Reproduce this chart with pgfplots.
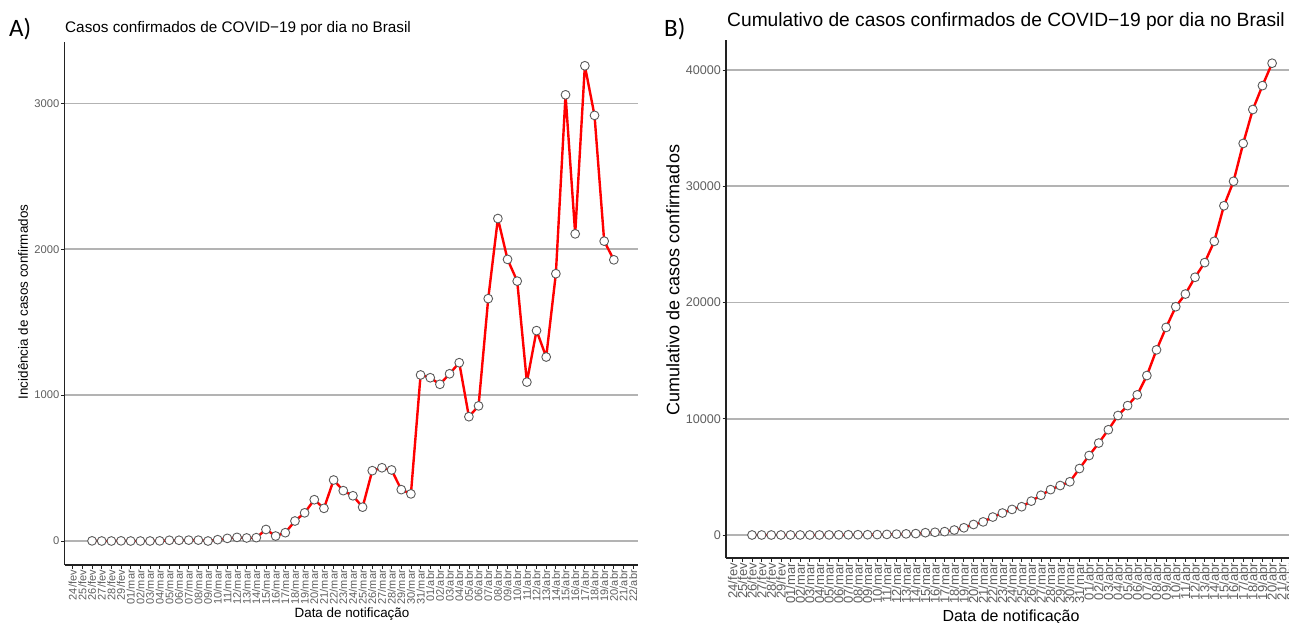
\documentclass[border=0pt]{standalone}
\usepackage{fontspec}
\setmainfont{Liberation Sans}
\newfontfamily\panelfont{Carlito}
\usepackage{pgfplots}
\usepackage{pgfplotstable}
\pgfplotsset{compat=1.18}

\definecolor{ticktext}{HTML}{5E5E5E}
\definecolor{gridgray}{HTML}{B3B3B3}
\definecolor{edgegray}{HTML}{5A5A5A}
\definecolor{axisdark}{HTML}{222222}

% Daily and cumulative confirmed cases; idx 0 = 24/fev
\pgfplotstableread{
idx daily cum
2 1 1
3 0 1
4 0 1
5 1 2
6 0 2
7 0 2
8 0 2
9 1 3
10 5 8
11 5 13
12 6 19
13 6 25
14 0 25
15 9 34
16 18 52
17 25 77
18 21 98
19 23 121
20 79 200
21 34 234
22 57 291
23 137 428
24 193 621
25 283 904
26 224 1128
27 418 1546
28 345 1891
29 310 2201
30 232 2433
31 482 2915
32 502 3417
33 487 3904
34 352 4256
35 323 4579
36 1138 5717
37 1119 6836
38 1074 7910
39 1146 9056
40 1222 10278
41 852 11130
42 926 12056
43 1661 13717
44 2210 15927
45 1930 17857
46 1781 19638
47 1089 20727
48 1442 22169
49 1261 23430
50 1832 25262
51 3058 28320
52 2105 30425
53 3257 33682
54 2917 36599
55 2055 38654
56 1927 40581
}\brdata

\pgfplotsset{
  covid/.style={
    scale only axis,
    axis lines=left,
    axis line style={-, line width=1.6pt, color=axisdark},
    ymajorgrids,
    major grid style={gridgray, line width=1.5pt},
    tick align=outside,
    major tick length=3.5pt,
    tick style={axisdark, line width=0.8pt},
    scaled y ticks=false,
    scaled x ticks=false,
    xtick={0,...,58},
    xticklabels={24/fev,25/fev,26/fev,27/fev,28/fev,29/fev,
      01/mar,02/mar,03/mar,04/mar,05/mar,06/mar,07/mar,08/mar,09/mar,10/mar,
      11/mar,12/mar,13/mar,14/mar,15/mar,16/mar,17/mar,18/mar,19/mar,20/mar,
      21/mar,22/mar,23/mar,24/mar,25/mar,26/mar,27/mar,28/mar,29/mar,30/mar,31/mar,
      01/abr,02/abr,03/abr,04/abr,05/abr,06/abr,07/abr,08/abr,09/abr,10/abr,
      11/abr,12/abr,13/abr,14/abr,15/abr,16/abr,17/abr,18/abr,19/abr,20/abr,
      21/abr,22/abr},
    xticklabel style={rotate=90, anchor=east, text=ticktext, inner sep=1.5pt},
    yticklabel style={text=ticktext, inner sep=1.5pt},
  },
  series/.style={red, line width=2.4pt, line join=round, line cap=round,
    mark=*, mark size=4.4pt,
    mark options={solid, fill=white, draw=edgegray, line width=0.9pt}},
}

\begin{document}
\begin{tikzpicture}[x=1pt,y=1pt]
\path[use as bounding box] (0,0) rectangle (1289,622);
\clip (0,0) rectangle (1289,622);

% Panel A: daily incidence
\begin{axis}[covid,
  at={(64.5pt,57pt)}, anchor=south west,
  width=573.5pt, height=523pt,
  xmin=-0.85, xmax=58.5, ymin=-164.5, ymax=3420,
  ytick={0,1000,2000,3000}, yticklabels={0,1000,2000,3000},
  xticklabel style={font=\fontsize{11}{11}\selectfont},
  yticklabel style={font=\fontsize{11.2}{12}\selectfont}]
\addplot[series] table[x=idx, y=daily] {\brdata};
\end{axis}

% Panel B: cumulative cases
\begin{axis}[covid,
  at={(726pt,64pt)}, anchor=south west,
  width=571.1pt, height=518pt,
  xmin=-0.7, xmax=58.6, ymin=-1978, ymax=42580,
  ytick={0,10000,20000,30000,40000}, yticklabels={0,10000,20000,30000,40000},
  xticklabel style={font=\fontsize{13}{13}\selectfont},
  yticklabel style={font=\fontsize{12.6}{13}\selectfont}]
\addplot[series] table[x=idx, y=cum] {\brdata};
\end{axis}

% Panel letters and titles
\node[anchor=base west, inner sep=0pt, font=\panelfont\fontsize{25}{25}\selectfont] at (9,585) {A)};
\node[anchor=base west, inner sep=0pt, font=\panelfont\fontsize{25}{25}\selectfont] at (664,585) {B)};
\node[anchor=base west, inner sep=0pt, font=\fontsize{15.3}{17}\selectfont] at (65,589)
  {Casos confirmados de COVID−19 por dia no Brasil};
\node[anchor=base west, inner sep=0pt, font=\fontsize{19.2}{21}\selectfont] at (727,595)
  {Cumulativo de casos confirmados de COVID−19 por dia no Brasil};

% Axis titles
\node[rotate=90, font=\fontsize{13.4}{15}\selectfont] at (23,320) {Incidência de casos confirmados};
\node[font=\fontsize{13.4}{15}\selectfont] at (352,8) {Data de notificação};
\node[rotate=90, font=\fontsize{18}{20}\selectfont] at (673,342) {Cumulativo de casos confirmados};
\node[font=\fontsize{16}{18}\selectfont] at (1011,5) {Data de notificação};
\end{tikzpicture}
\end{document}
